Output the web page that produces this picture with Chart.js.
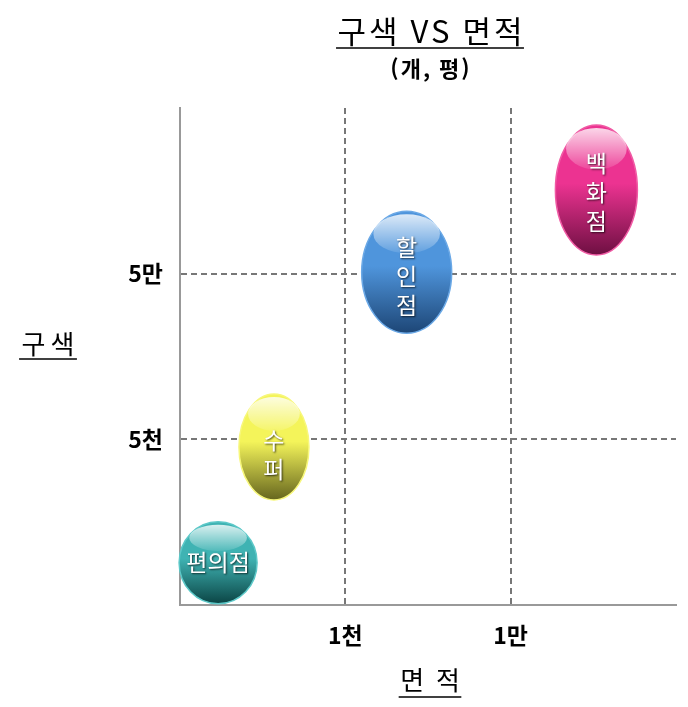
<!DOCTYPE html>
<html lang="ko">
<head>
  <meta charset="UTF-8" />
  <title>구색 VS 면적</title>
  <script src="https://cdn.jsdelivr.net/npm/chart.js"></script>
  <style>
    body { margin: 0; background: #fff; }
    .wrap { width: 688px; height: 707px; position: relative; }
  </style>
</head>
<body>
  <div class="wrap"><canvas id="chart"></canvas></div>

  <script>
    // store types, floor area (평) and assortment (개)
    const storeNames = ["편의점", "수퍼", "할인점", "백화점"];
    const areaValues = [170, 370, 2350, 33000];
    const itemValues = [900, 4500, 51000, 160000];

    const xTickValues = [1000, 10000];
    const xTickLabels = ["1천", "1만"];
    const yTickValues = [5000, 50000];
    const yTickLabels = ["5천", "5만"];

    // look of each bubble
    const bubbleStyle = [
      { top: "#3fb3b3", bottom: "#0b4545", edge: "#5cc8c8", rx: 39, ry: 41, vertical: false, dy: 0 },
      { top: "#f4f45a", bottom: "#66661e", edge: "#f7f77a", rx: 35, ry: 53, vertical: true, dy: 8 },
      { top: "#4f95dc", bottom: "#1d4676", edge: "#6aa8e6", rx: 45, ry: 61, vertical: true, dy: 4 },
      { top: "#ec3391", bottom: "#6e0f42", edge: "#f05aa4", rx: 41, ry: 65, vertical: true, dy: 2 }
    ];

    const KR = '"Noto Sans CJK KR", sans-serif';

    const glossyBubbles = {
      id: "glossyBubbles",
      afterDatasetsDraw(chart) {
        const ctx = chart.ctx;
        const meta = chart.getDatasetMeta(0);
        meta.data.forEach((pt, i) => {
          const s = bubbleStyle[i];
          const cx = pt.x, cy = pt.y;
          ctx.save();
          // body
          const g = ctx.createLinearGradient(0, cy - s.ry, 0, cy + s.ry);
          g.addColorStop(0, s.top);
          g.addColorStop(0.45, s.top);
          g.addColorStop(1, s.bottom);
          ctx.beginPath();
          ctx.ellipse(cx, cy, s.rx, s.ry, 0, 0, Math.PI * 2);
          ctx.fillStyle = g;
          ctx.fill();
          ctx.lineWidth = 1.5;
          ctx.strokeStyle = s.edge;
          ctx.stroke();
          // shine
          const hx = s.rx * 0.74, hy = s.ry * 0.32;
          const hcY = cy - s.ry + hy + 3;
          const hg = ctx.createLinearGradient(0, hcY - hy, 0, hcY + hy);
          hg.addColorStop(0, "rgba(255,255,255,0.8)");
          hg.addColorStop(1, "rgba(255,255,255,0.1)");
          ctx.beginPath();
          ctx.ellipse(cx, hcY, hx, hy, 0, 0, Math.PI * 2);
          ctx.fillStyle = hg;
          ctx.fill();
          // label
          ctx.font = "23px " + KR;
          ctx.fillStyle = "#fff";
          ctx.textAlign = "center";
          ctx.textBaseline = "middle";
          ctx.shadowColor = "rgba(0,0,0,0.7)";
          ctx.shadowOffsetX = 1;
          ctx.shadowOffsetY = 1;
          ctx.shadowBlur = 2;
          const name = storeNames[i];
          if (s.vertical) {
            const chars = [...name];
            const step = 29;
            const start = cy + s.dy - (chars.length - 1) * step / 2;
            chars.forEach((c, k) => ctx.fillText(c, cx, start + k * step));
          } else {
            ctx.fillText(name, cx, cy + s.dy);
          }
          ctx.restore();
        });
      }
    };

    function underlinedText(ctx, text, x, y, font, spacing, lineY) {
      ctx.font = font;
      ctx.letterSpacing = spacing + "px";
      ctx.textAlign = "center";
      ctx.textBaseline = "middle";
      ctx.fillStyle = "#000";
      ctx.fillText(text, x + spacing / 2, y);
      const w = ctx.measureText(text).width;
      if (lineY) {
        ctx.beginPath();
        ctx.moveTo(x - w / 2, lineY);
        ctx.lineTo(x + w / 2, lineY);
        ctx.lineWidth = 1.5;
        ctx.strokeStyle = "#000";
        ctx.stroke();
      }
      ctx.letterSpacing = "0px";
    }

    const titles = {
      id: "titles",
      afterDraw(chart) {
        const ctx = chart.ctx;
        const mid = (chart.chartArea.left + chart.chartArea.right) / 2;
        ctx.save();
        underlinedText(ctx, "구색 VS 면적", mid + 2, 31, "31px " + KR, 3, 48);
        underlinedText(ctx, "(개, 평)", mid + 2, 69, "bold 22px " + KR, 2, 0);
        underlinedText(ctx, "구색", 48, 344, "26px " + KR, 5, 359);
        underlinedText(ctx, "면 적", 430, 680, "26px " + KR, 3, 697);
        ctx.restore();
      }
    };

    const gridStyle = {
      color: "#777",
      lineWidth: 2,
      drawTicks: false
    };

    new Chart(document.getElementById("chart"), {
      type: "scatter",
      data: {
        datasets: [{
          data: areaValues.map((v, i) => ({ x: v, y: itemValues[i] })),
          pointRadius: 0,
          pointHoverRadius: 0
        }]
      },
      options: {
        responsive: true,
        maintainAspectRatio: false,
        animation: false,
        layout: { padding: { top: 108, right: 12, left: 0, bottom: 0 } },
        plugins: { legend: { display: false }, tooltip: { enabled: false } },
        scales: {
          x: {
            type: "logarithmic",
            min: 100,
            max: 100000,
            afterBuildTicks: s => { s.ticks = xTickValues.map(v => ({ value: v })); },
            afterFit: s => { s.height = 102; },
            grid: gridStyle,
            border: { color: "#999", width: 2, dash: [6, 4] },
            ticks: {
              autoSkip: false,
              maxRotation: 0,
              padding: 16,
              color: "#000",
              font: { family: KR, size: 23, weight: "bold" },
              callback: v => xTickLabels[xTickValues.indexOf(v)] ?? ""
            }
          },
          y: {
            type: "logarithmic",
            min: 500,
            max: 500000,
            afterBuildTicks: s => { s.ticks = yTickValues.map(v => ({ value: v })); },
            afterFit: s => { s.width = 180; },
            grid: gridStyle,
            border: { color: "#999", width: 2, dash: [6, 4] },
            ticks: {
              autoSkip: false,
              padding: 17,
              color: "#000",
              font: { family: KR, size: 23, weight: "bold" },
              callback: v => yTickLabels[yTickValues.indexOf(v)] ?? ""
            }
          }
        }
      },
      plugins: [glossyBubbles, titles]
    });
  </script>
</body>
</html>
